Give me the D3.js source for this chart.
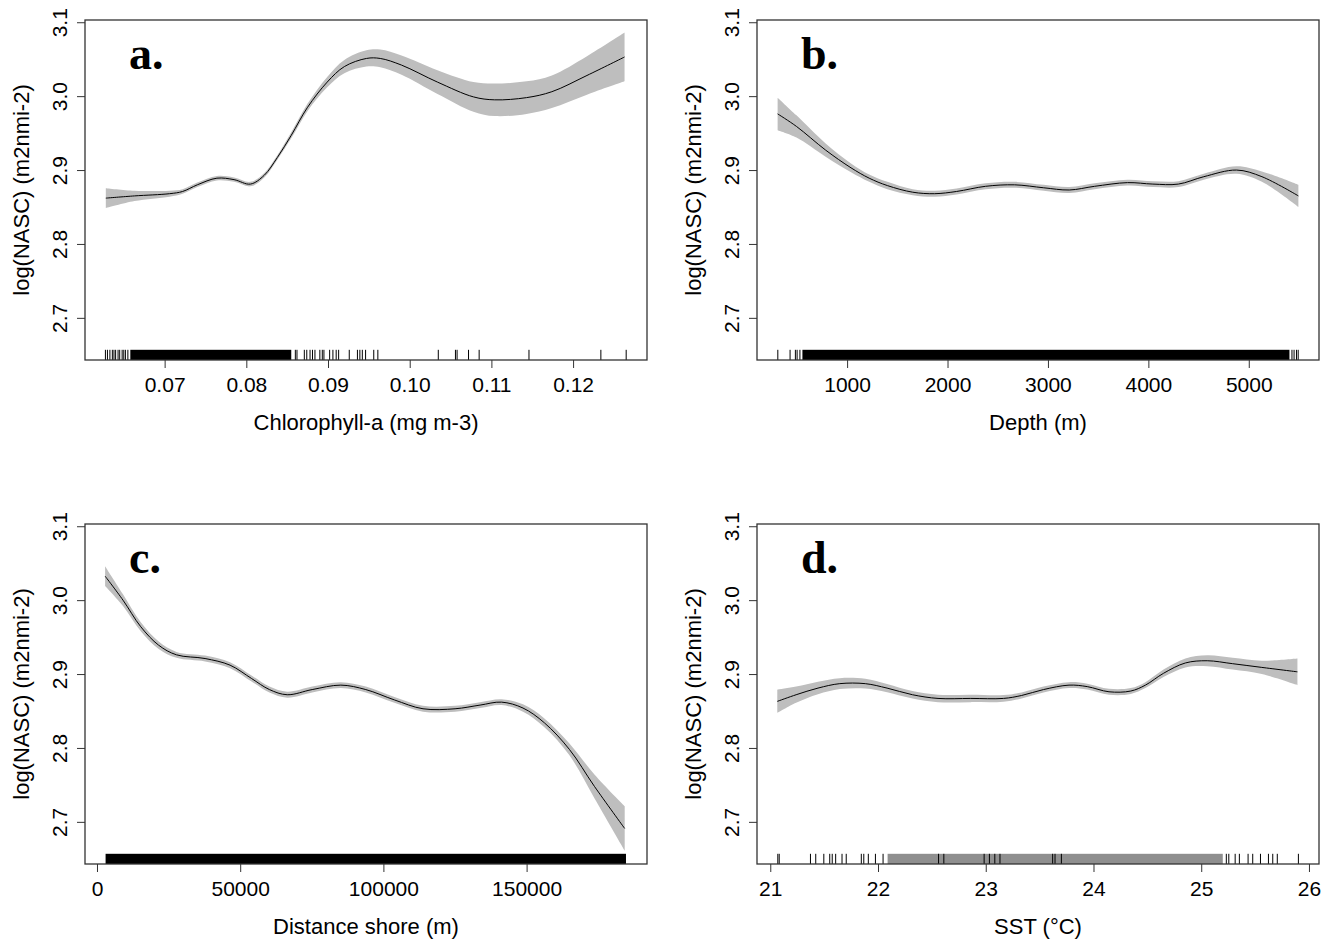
<!DOCTYPE html>
<html>
<head>
<meta charset="utf-8">
<script src="https://cdn.jsdelivr.net/npm/d3@7/dist/d3.min.js"></script>
<style>
  body { margin: 0; background: #fff; }
  text { font-family: "Liberation Sans", Arial, sans-serif; }
</style>
</head>
<body>
<script>
// shared y axis
const yLim = [2.66, 3.086]
const yTicks = [2.7, 2.8, 2.9, 3.0, 3.1]
const yTitle = 'log(NASC) (m2nmi-2)'

// a. chlorophyll
const chlX   = [0.0628, 0.0663, 0.0706, 0.0722, 0.0740, 0.0764, 0.0785, 0.0805, 0.0822, 0.0838, 0.0855, 0.0875, 0.0899, 0.0920, 0.0947, 0.0964, 0.0990, 0.1034, 0.1078, 0.1104, 0.1143, 0.1174, 0.1217, 0.1263]
const chlFit = [2.862, 2.865, 2.868, 2.871, 2.880, 2.889, 2.887, 2.881, 2.893, 2.917, 2.947, 2.985, 3.019, 3.040, 3.051, 3.051, 3.042, 3.019, 2.999, 2.995, 2.998, 3.006, 3.028, 3.053]
const chlSe  = [0.0135, 0.007, 0.004, 0.003, 0.003, 0.003, 0.003, 0.003, 0.003, 0.003, 0.004, 0.005, 0.007, 0.009, 0.011, 0.012, 0.013, 0.016, 0.020, 0.022, 0.022, 0.022, 0.026, 0.033]
const chlRug = [0.06275, 0.0630, 0.0633, 0.0636, 0.0638, 0.0640, 0.0643, 0.0645, 0.0648, 0.0650, 0.0652, 0.0655,
  0.0860, 0.0862, 0.0871, 0.0874, 0.0878, 0.0881, 0.0884, 0.0890, 0.0893, 0.0895, 0.0902, 0.0906, 0.0910, 0.0913,
  0.0926, 0.0936, 0.0939, 0.0942, 0.0946, 0.0956, 0.0961, 0.1035, 0.1056, 0.1058, 0.1072, 0.1085, 0.1146, 0.1234, 0.1265]
const chlDense = [[0.0658, 0.0855]]
const chlLim = [0.0628, 0.1265]
const chlTicks = [0.07, 0.08, 0.09, 0.10, 0.11, 0.12]

// b. depth
const depX   = [308, 496, 786, 1039, 1220, 1401, 1654, 1872, 2090, 2379, 2668, 2958, 3212, 3465, 3792, 4045, 4299, 4552, 4878, 5131, 5494]
const depFit = [2.976, 2.959, 2.927, 2.903, 2.889, 2.879, 2.870, 2.868, 2.871, 2.878, 2.880, 2.876, 2.873, 2.878, 2.883, 2.881, 2.881, 2.891, 2.900, 2.891, 2.865]
const depSe  = [0.022, 0.015, 0.009, 0.006, 0.005, 0.005, 0.004, 0.004, 0.004, 0.004, 0.004, 0.004, 0.004, 0.004, 0.004, 0.004, 0.004, 0.004, 0.005, 0.007, 0.015]
const depRug = [310, 432, 485, 502, 530, 5430, 5451, 5475, 5492]
const depDense = [[555, 5405]]
const depLim = [310, 5492]
const depTicks = [1000, 2000, 3000, 4000, 5000]

// c. distance to shore
const disX   = [2830, 9080, 15290, 21540, 27760, 37740, 46470, 53950, 60200, 66410, 75140, 85130, 93850, 103840, 113830, 125030, 133760, 141240, 148740, 156210, 164950, 173680, 184250]
const disFit = [3.0325, 3.000, 2.964, 2.939, 2.926, 2.921, 2.912, 2.894, 2.879, 2.872, 2.879, 2.885, 2.879, 2.865, 2.853, 2.853, 2.858, 2.862, 2.854, 2.834, 2.798, 2.748, 2.691]
const disSe  = [0.0135, 0.008, 0.006, 0.005, 0.004, 0.004, 0.004, 0.004, 0.004, 0.004, 0.004, 0.004, 0.004, 0.004, 0.004, 0.004, 0.004, 0.004, 0.005, 0.006, 0.008, 0.016, 0.030]
const disRug = []
const disDense = [[3000, 184700]]
const disLim = [3080, 184770]
const disTicks = [0, 50000, 100000, 150000]

// d. SST
const sstX   = [21.065, 21.24, 21.443, 21.645, 21.882, 22.084, 22.32, 22.557, 22.861, 23.164, 23.333, 23.536, 23.773, 23.942, 24.144, 24.346, 24.482, 24.65, 24.853, 25.056, 25.292, 25.562, 25.893]
const sstFit = [2.863, 2.872, 2.881, 2.887, 2.887, 2.881, 2.872, 2.867, 2.867, 2.867, 2.871, 2.879, 2.885, 2.883, 2.876, 2.877, 2.885, 2.901, 2.915, 2.918, 2.914, 2.909, 2.903]
const sstSe  = [0.0157, 0.011, 0.0085, 0.0074, 0.0065, 0.0055, 0.005, 0.005, 0.005, 0.0045, 0.004, 0.004, 0.004, 0.004, 0.004, 0.004, 0.004, 0.005, 0.006, 0.0074, 0.008, 0.009, 0.018]
const sstRug = [21.070, 21.083, 21.373, 21.422, 21.497, 21.552, 21.575, 21.607, 21.666, 21.705, 21.845, 21.868, 21.910, 21.976, 22.047,
  22.562, 22.611, 22.985, 23.034, 23.084, 23.132, 23.621, 23.643, 23.702,
  25.233, 25.256, 25.315, 25.354, 25.435, 25.478, 25.550, 25.624, 25.664, 25.706, 25.902]
const sstDense = [[22.089, 25.200]]
const sstLim = [21.07, 25.9]
const sstTicks = [21, 22, 23, 24, 25, 26]

const panels = [
  {letter: 'a.', x: chlX, fit: chlFit, se: chlSe, rug: chlRug, dense: chlDense, lim: chlLim, ticks: chlTicks, title: 'Chlorophyll-a (mg m-3)', fmt: d3.format('.2f'), denseFill: '#000', left: 85, top: 20},
  {letter: 'b.', x: depX, fit: depFit, se: depSe, rug: depRug, dense: depDense, lim: depLim, ticks: depTicks, title: 'Depth (m)', fmt: d3.format('d'), denseFill: '#000', left: 757, top: 20},
  {letter: 'c.', x: disX, fit: disFit, se: disSe, rug: disRug, dense: disDense, lim: disLim, ticks: disTicks, title: 'Distance shore (m)', fmt: d3.format('d'), denseFill: '#000', left: 85, top: 524},
  {letter: 'd.', x: sstX, fit: sstFit, se: sstSe, rug: sstRug, dense: sstDense, lim: sstLim, ticks: sstTicks, title: 'SST (\u00b0C)', fmt: d3.format('d'), denseFill: '#8f8f8f', left: 757, top: 524}
]

const W = 1336, H = 941
const pw = 562, ph = 340

const svg = d3.select('body').append('svg')
  .attr('width', W)
  .attr('height', H)
  .style('background', '#fff')

// R style 4% padding
function pad(lim){
  const w = lim[1] - lim[0]
  return [lim[0] - 0.04 * w, lim[1] + 0.04 * w]
}

panels.forEach(p => {
  const g = svg.append('g').attr('transform', `translate(${p.left},${p.top})`)
  const x = d3.scaleLinear().domain(pad(p.lim)).range([0, pw])
  const y = d3.scaleLinear().domain(pad(yLim)).range([ph, 0])

  const pts = p.x.map((v, i) => ({x: v, fit: p.fit[i], se: p.se[i]}))

  g.append('path')
    .datum(pts)
    .attr('fill', '#bebebe')
    .attr('d', d3.area()
      .x(d => x(d.x))
      .y0(d => y(d.fit - d.se))
      .y1(d => y(d.fit + d.se))
      .curve(d3.curveCatmullRom))

  g.append('path')
    .datum(pts)
    .attr('fill', 'none')
    .attr('stroke', '#000')
    .attr('stroke-width', 1)
    .attr('d', d3.line()
      .x(d => x(d.x))
      .y(d => y(d.fit))
      .curve(d3.curveCatmullRom))

  // rug
  const rugH = ph * 0.03
  g.selectAll('.blk')
    .data(p.dense)
    .enter().append('rect')
    .attr('x', d => x(d[0]))
    .attr('width', d => x(d[1]) - x(d[0]))
    .attr('y', ph - rugH)
    .attr('height', rugH)
    .attr('fill', p.denseFill)
  g.selectAll('.rug')
    .data(p.rug)
    .enter().append('line')
    .attr('x1', d => x(d)).attr('x2', d => x(d))
    .attr('y1', ph - rugH).attr('y2', ph)
    .attr('stroke', '#000')
    .attr('stroke-width', 1)

  // axes
  const xa = g.append('g')
    .attr('transform', `translate(0,${ph})`)
    .call(d3.axisBottom(x).tickValues(p.ticks).tickFormat(p.fmt).tickSize(8).tickPadding(9))
  xa.select('.domain').remove()
  xa.selectAll('line').attr('stroke', '#333')
  xa.selectAll('text').attr('font-size', 21).attr('fill', '#000')

  const ya = g.append('g')
    .call(d3.axisLeft(y).tickValues(yTicks).tickFormat(d3.format('.1f')).tickSize(8))
  ya.select('.domain').remove()
  ya.selectAll('line').attr('stroke', '#333')
  ya.selectAll('text')
    .attr('font-size', 21)
    .attr('fill', '#000')
    .attr('transform', 'rotate(-90)')
    .attr('x', 0)
    .attr('y', -18)
    .attr('dy', 0)
    .attr('text-anchor', 'middle')

  // box
  g.append('rect')
    .attr('x', 0).attr('y', 0)
    .attr('width', pw).attr('height', ph)
    .attr('fill', 'none')
    .attr('stroke', '#333')
    .attr('stroke-width', 1.3)

  g.append('text')
    .attr('x', pw / 2)
    .attr('y', ph + 70)
    .attr('text-anchor', 'middle')
    .attr('font-size', 22)
    .text(p.title)

  g.append('text')
    .attr('transform', `translate(-56,${ph / 2}) rotate(-90)`)
    .attr('text-anchor', 'middle')
    .attr('font-size', 22)
    .text(yTitle)

  g.append('text')
    .attr('x', 44)
    .attr('y', 49)
    .style('font-family', '"Liberation Serif", "Times New Roman", serif')
    .attr('font-weight', 'bold')
    .attr('font-size', 46)
    .text(p.letter)
})
</script>
</body>
</html>
